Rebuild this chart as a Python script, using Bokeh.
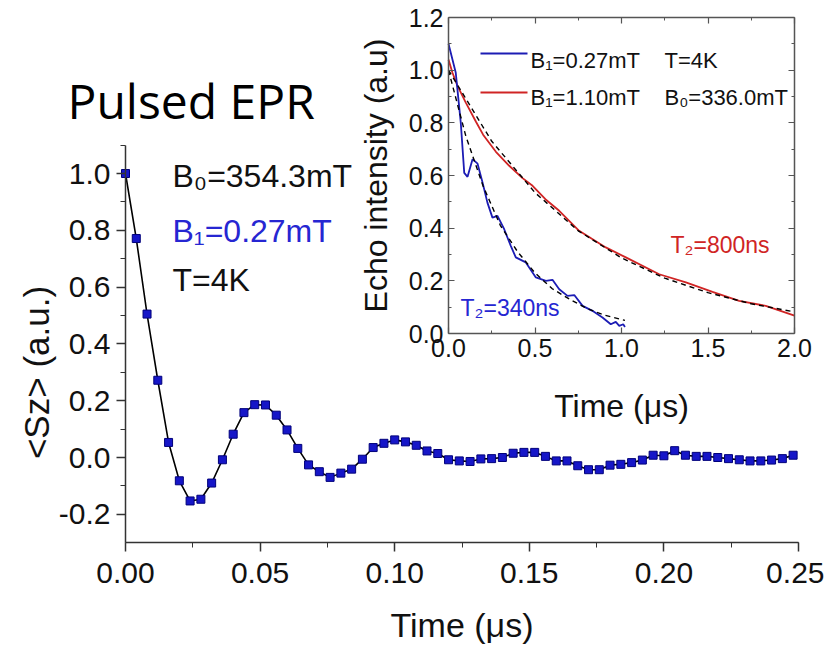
import math
from bokeh.plotting import figure
from bokeh.models import (Range1d, FixedTicker, SingleIntervalTicker,
                          NumeralTickFormatter, Label, LinearAxis)
from bokeh.core.properties import value
from bokeh.embed import file_html
from bokeh.resources import INLINE

# ---------------- data: main plot <Sz>(t) ----------------
sz_time = [0.000, 0.004, 0.008, 0.012, 0.016, 0.020, 0.024, 0.028, 0.032, 0.036,
           0.040, 0.044, 0.048, 0.052, 0.056, 0.060, 0.064, 0.068, 0.072, 0.076,
           0.080, 0.084, 0.088, 0.092, 0.096, 0.100, 0.104, 0.108, 0.112, 0.116,
           0.120, 0.124, 0.128, 0.132, 0.136, 0.140, 0.144, 0.148, 0.152, 0.156,
           0.160, 0.164, 0.168, 0.172, 0.176, 0.180, 0.184, 0.188, 0.192, 0.196,
           0.200, 0.204, 0.208, 0.212, 0.216, 0.220, 0.224, 0.228, 0.232, 0.236,
           0.240, 0.244, 0.248]
sz_value = [1.000, 0.771, 0.505, 0.272, 0.053, -0.082, -0.153, -0.147, -0.090, -0.008,
            0.082, 0.158, 0.186, 0.185, 0.149, 0.097, 0.032, -0.026, -0.050, -0.070,
            -0.055, -0.041, -0.006, 0.035, 0.050, 0.062, 0.055, 0.043, 0.023, 0.014,
            -0.008, -0.012, -0.014, -0.005, -0.004, 0.000, 0.015, 0.018, 0.018, 0.004,
            -0.012, -0.012, -0.029, -0.043, -0.043, -0.027, -0.024, -0.018, -0.009, 0.008,
            0.006, 0.024, 0.008, 0.004, 0.004, 0.000, -0.004, -0.008, -0.012, -0.012,
            -0.009, -0.004, 0.008]

main_x_ticks = [0.00, 0.05, 0.10, 0.15, 0.20, 0.25]
main_y_ticks = [-0.2, 0.0, 0.2, 0.4, 0.6, 0.8, 1.0]
main_y_bounds = [-0.3, 1.1]

# ---------------- data: inset echo decay ----------------
blue_t = [0.000, 0.042, 0.071, 0.091, 0.110, 0.139, 0.168, 0.197, 0.225, 0.254,
          0.283, 0.322, 0.360, 0.389, 0.447, 0.505, 0.563, 0.601, 0.640, 0.688,
          0.727, 0.775, 0.832, 0.890, 0.938, 0.967, 0.987, 1.010, 1.020]
blue_v = [1.100, 0.990, 0.800, 0.610, 0.595, 0.662, 0.645, 0.573, 0.497, 0.440,
          0.447, 0.396, 0.333, 0.289, 0.270, 0.213, 0.200, 0.204, 0.168, 0.143,
          0.146, 0.105, 0.086, 0.061, 0.035, 0.044, 0.029, 0.035, 0.025]
blue_fit_t = [0.0, 0.1, 0.2, 0.3, 0.4, 0.5, 0.6, 0.7, 0.8, 0.9, 1.0, 1.02]
blue_fit_v = [1.0, 0.75, 0.56, 0.41, 0.31, 0.23, 0.17, 0.13, 0.095, 0.07, 0.053, 0.05]

red_t = [0.000, 0.023, 0.052, 0.100, 0.158, 0.200, 0.274, 0.351, 0.428, 0.486,
         0.560, 0.640, 0.755, 0.909, 1.025, 1.218, 1.372, 1.526, 1.680, 1.834, 2.000]
red_v = [1.040, 0.990, 0.940, 0.877, 0.805, 0.755, 0.690, 0.637, 0.590, 0.561,
         0.510, 0.466, 0.390, 0.327, 0.289, 0.225, 0.194, 0.158, 0.124, 0.105, 0.068]
red_fit_t = [0.0, 0.25, 0.5, 0.75, 1.0, 1.25, 1.5, 1.75, 2.0]
red_fit_v = [1.0, 0.73, 0.535, 0.39, 0.287, 0.21, 0.155, 0.113, 0.082]

inset_x_ticks = [0.0, 0.5, 1.0, 1.5, 2.0]
inset_x_labels = ["0.0", "0.5", "1.0", "1.5", "2.0"]
inset_y_ticks = [0.0, 0.2, 0.4, 0.6, 0.8, 1.0, 1.2]
inset_y_labels = ["0.0", "0.2", "0.4", "0.6", "0.8", "1.0", "1.2"]

# ---------------- layout (pixels, figure coordinates) ----------------
W, H = 824, 647
M_X0, M_X1 = 125, 798        # main x: first / last tick position
M_Y0, M_PX = 457, 284.0      # main y: pixel of value 0, pixels per unit
I_X0, I_X1 = 448, 794        # inset x: first / last tick position
I_Y0, I_Y1 = 333, 17         # inset y: pixel of first / last tick

FONT = "Liberation Sans"
BLUE_TXT = "#2626d2"
BLUE_LINE = "#1c1cb4"
RED = "#d02424"
AX = "#333333"
INAX = "#555555"

# main ranges mapped onto the whole canvas
msx = (M_X1 - M_X0) / (main_x_ticks[-1] - main_x_ticks[0])
mx_start = main_x_ticks[0] - M_X0 / msx
my_top = M_Y0 / M_PX
p = figure(width=W, height=H, output_backend="svg", toolbar_location=None,
           title=None,
           x_range=Range1d(mx_start, mx_start + W / msx),
           y_range=Range1d(my_top - H / M_PX, my_top),
           min_border=0)
p.outline_line_color = None
p.grid.visible = False
p.background_fill_color = "white"
p.border_fill_color = "white"

# inset ranges (extra) mapped onto the whole canvas
isx = (I_X1 - I_X0) / (inset_x_ticks[-1] - inset_x_ticks[0])
isy = (I_Y0 - I_Y1) / (inset_y_ticks[-1] - inset_y_ticks[0])
ix_start = inset_x_ticks[0] - I_X0 / isx
iy_top = inset_y_ticks[0] + I_Y0 / isy
p.extra_x_ranges = {"ix": Range1d(ix_start, ix_start + W / isx)}
p.extra_y_ranges = {"iy": Range1d(iy_top - H / isy, iy_top)}
IR = dict(x_range_name="ix", y_range_name="iy")


def style_axis(ax, color, size):
    ax.major_label_text_font = FONT
    ax.major_label_text_font_size = size
    ax.major_label_text_color = "#111111"
    ax.axis_line_color = color
    ax.axis_line_width = 1.5
    ax.major_tick_line_color = color
    ax.minor_tick_line_color = color
    ax.major_tick_line_width = 1.5
    ax.axis_label_text_font = FONT
    ax.axis_label_text_font_style = "normal"
    ax.axis_label_text_color = "#111111"


# ---------- main axes ----------
xa = p.xaxis[0]
xa.ticker = SingleIntervalTicker(interval=0.05, num_minor_ticks=2)
xa.formatter = NumeralTickFormatter(format="0.00")
xa.bounds = (main_x_ticks[0], main_x_ticks[-1])
xa.fixed_location = main_y_bounds[0]
style_axis(xa, AX, "30px")
xa.major_tick_out, xa.major_tick_in = 9, 0
xa.minor_tick_out, xa.minor_tick_in = 5, 0
xa.major_label_standoff = 11
xa.axis_label = "Time (μs)"
xa.axis_label_text_font_size = "34px"
xa.axis_label_standoff = 20

ya = p.yaxis[0]
ya.ticker = SingleIntervalTicker(interval=0.2, num_minor_ticks=2)
ya.formatter = NumeralTickFormatter(format="0.0")
ya.bounds = tuple(main_y_bounds)
ya.fixed_location = main_x_ticks[0]
style_axis(ya, AX, "30px")
ya.major_tick_out, ya.major_tick_in = 9, 0
ya.minor_tick_out, ya.minor_tick_in = 5, 0
ya.major_label_standoff = 6

# main data
p.line(sz_time, sz_value, line_color="black", line_width=1.6)
p.scatter(sz_time, sz_value, marker="square", size=8,
          fill_color="#1616c8", line_color="#00007a", line_width=1)


def mx(px):
    return mx_start + px / msx


def my(py):
    return my_top - py / M_PX


p.add_layout(Label(x=mx(36), y=my(372), text="<Sz> (a.u.)", angle=math.pi / 2,
                   text_align="center", text_baseline="alphabetic",
                   text_font=FONT, text_font_size="35px", text_color="#111111"))
p.add_layout(Label(x=mx(67), y=my(100), text="Pulsed EPR",
                   text_align="left", text_baseline="alphabetic",
                   text_font="Open Sans", text_font_size="48px", text_color="black"))
for txt, ty, col in [("B₀=354.3mT", 175, "#111111"),
                     ("B₁=0.27mT", 230, BLUE_TXT),
                     ("T=4K", 279, "#111111")]:
    p.add_layout(Label(x=mx(172), y=my(ty), text=txt, text_align="left",
                       text_baseline="alphabetic", text_font=FONT,
                       text_font_size="32px", text_color=col))

# ---------- inset ----------
x_minor = [(a + b) / 2 for a, b in zip(inset_x_ticks[:-1], inset_x_ticks[1:])]
y_minor = [(a + b) / 2 for a, b in zip(inset_y_ticks[:-1], inset_y_ticks[1:])]
x_over = dict(zip(inset_x_ticks, inset_x_labels))
y_over = dict(zip(inset_y_ticks, inset_y_labels))

p.quad(left=inset_x_ticks[0], right=inset_x_ticks[-1],
       bottom=inset_y_ticks[0], top=inset_y_ticks[-1],
       fill_color="white", line_color=None, **IR)

inset_axes = []
for side, horiz, loc, labels in [("below", True, inset_y_ticks[0], True),
                                 ("above", True, inset_y_ticks[-1], False),
                                 ("left", False, inset_x_ticks[0], True),
                                 ("right", False, inset_x_ticks[-1], False)]:
    if horiz:
        ax = LinearAxis(ticker=FixedTicker(ticks=inset_x_ticks, minor_ticks=x_minor),
                        bounds=(inset_x_ticks[0], inset_x_ticks[-1]),
                        major_label_overrides=x_over, **IR)
    else:
        ax = LinearAxis(ticker=FixedTicker(ticks=inset_y_ticks, minor_ticks=y_minor),
                        bounds=(inset_y_ticks[0], inset_y_ticks[-1]),
                        major_label_overrides=y_over, **IR)
    ax.fixed_location = loc
    style_axis(ax, INAX, "25px" if labels else "0px")
    ax.major_tick_in, ax.major_tick_out = 6, 0
    ax.minor_tick_in, ax.minor_tick_out = 3, 0
    ax.major_tick_line_width = 1.2
    if not labels:
        ax.major_label_text_alpha = 0
    p.add_layout(ax, side)
    inset_axes.append(ax)

ib, _, il, _ = inset_axes
ib.major_label_standoff = 5
ib.axis_label = "Time (μs)"
ib.axis_label_text_font_size = "32px"
ib.axis_label_standoff = 28
il.major_label_standoff = 5
il.axis_label = "Echo intensity (a.u)"
il.axis_label_text_font_size = "32px"
il.axis_label_standoff = 12

p.line(red_t, red_v, line_color=RED, line_width=1.8, **IR)
p.line(blue_t, blue_v, line_color=BLUE_LINE, line_width=1.8, **IR)
p.line(red_fit_t, red_fit_v, line_color="black", line_width=1.4, line_dash="5 4", **IR)
p.line(blue_fit_t, blue_fit_v, line_color="black", line_width=1.4, line_dash="5 4", **IR)


def ix(px):
    return ix_start + px / isx


def iy(py):
    return iy_top - py / isy


# inset legend
p.segment([ix(480)], [iy(53)], [ix(527)], [iy(53)], line_color=BLUE_LINE, line_width=2, **IR)
p.segment([ix(480)], [iy(92)], [ix(527)], [iy(92)], line_color=RED, line_width=2, **IR)
leg_txt = ["B₁=0.27mT", "B₁=1.10mT", "T=4K", "B₀=336.0mT"]
leg_x = [ix(530), ix(530), ix(664), ix(664)]
leg_y = [iy(60), iy(97), iy(60), iy(97)]
p.text(x=leg_x, y=leg_y, text=leg_txt, text_align="left", text_baseline="alphabetic",
       text_font=value(FONT), text_font_size="22px", text_color="#111111", **IR)
p.text(x=[ix(670)], y=[iy(244)], text=["T₂=800ns"], text_align="left",
       text_baseline="alphabetic", text_font=value(FONT), text_font_size="23px",
       text_color=RED, **IR)
p.text(x=[ix(460)], y=[iy(307)], text=["T₂=340ns"], text_align="left",
       text_baseline="alphabetic", text_font=value(FONT), text_font_size="23px",
       text_color=BLUE_TXT, **IR)

open("out.html", "w").write(file_html(p, INLINE))
